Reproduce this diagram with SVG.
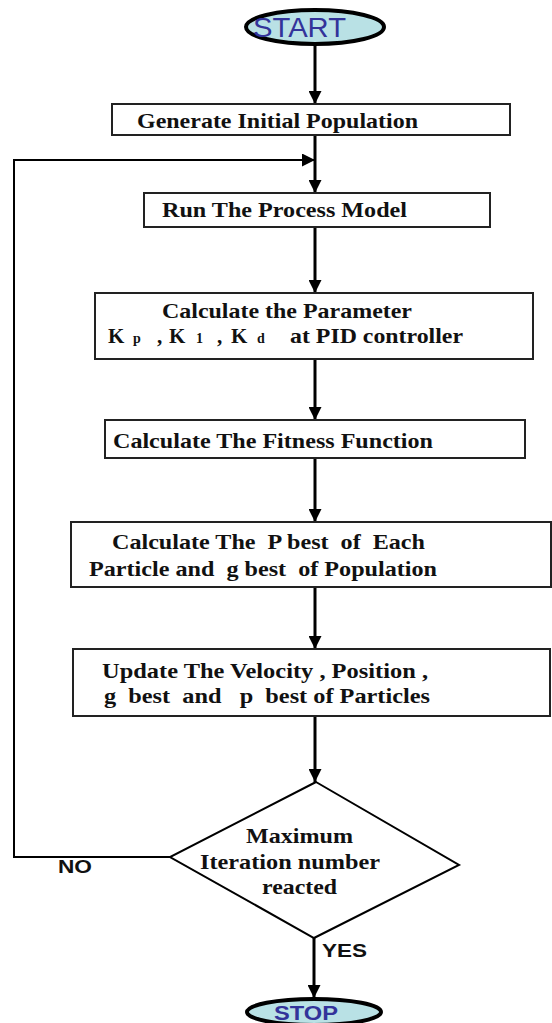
<svg xmlns="http://www.w3.org/2000/svg" width="552" height="1023" viewBox="0 0 552 1023">
<style>
.box{fill:#fff;stroke:#222;stroke-width:2}
.t{font-family:"Liberation Serif","Times New Roman",serif;font-weight:bold;font-size:21px;fill:#111}
.s{font-size:14px}
.term{fill:#b9e1e5;stroke:#000;stroke-width:4}
.tt{font-family:"Liberation Sans",Arial,sans-serif;fill:#33339a}
.lbl{font-family:"Liberation Sans",Arial,sans-serif;font-weight:bold;font-size:19px;fill:#111}
.c{fill:none;stroke:#000;stroke-width:3}
.c2{fill:none;stroke:#000;stroke-width:2}
</style>
<defs>
<marker id="a" viewBox="0 0 10 10" refX="10" refY="5" markerWidth="13" markerHeight="13" orient="auto" markerUnits="userSpaceOnUse">
<path d="M0,0 L10,5 L0,10 z" fill="#000"/>
</marker>
</defs>
<g id="connectors">
<path class="c" d="M315,45 V104" marker-end="url(#a)"/>
<path class="c" d="M315,136 V193" marker-end="url(#a)"/>
<path class="c2" d="M170,857 H14 V160 H315" marker-end="url(#a)"/>
<path class="c" d="M315,227 V293" marker-end="url(#a)"/>
<path class="c" d="M315,360 V420" marker-end="url(#a)"/>
<path class="c" d="M315,459 V522" marker-end="url(#a)"/>
<path class="c" d="M315,588 V649" marker-end="url(#a)"/>
<path class="c" d="M315,717 V782" marker-end="url(#a)"/>
<path class="c" d="M314,938 V998" marker-end="url(#a)"/>
<text class="lbl" x="322" y="957" textLength="45" lengthAdjust="spacingAndGlyphs">YES</text>
<text class="lbl" x="58" y="873" textLength="34" lengthAdjust="spacingAndGlyphs">NO</text>
</g>
<g id="start">
<ellipse class="term" cx="315" cy="27" rx="69" ry="17"/>
<text class="tt" x="253" y="37" font-size="28" textLength="93" lengthAdjust="spacingAndGlyphs">START</text>
</g>
<g id="n1">
<rect class="box" x="112" y="104" width="398" height="31"/>
<text class="t" x="137" y="128" textLength="281" lengthAdjust="spacingAndGlyphs">Generate Initial Population</text>
</g>
<g id="n2">
<rect class="box" x="144" y="193" width="346" height="34"/>
<text class="t" x="162" y="217" textLength="245" lengthAdjust="spacingAndGlyphs">Run The Process Model</text>
</g>
<g id="n3">
<rect class="box" x="95" y="293" width="438" height="66"/>
<text class="t" x="162" y="318" textLength="250" lengthAdjust="spacingAndGlyphs">Calculate the Parameter</text>
<text class="t" y="343"><tspan x="108">K</tspan><tspan class="s" x="133">p</tspan><tspan x="157">,</tspan><tspan x="169">K</tspan><tspan class="s" x="196">1</tspan><tspan x="217">,</tspan><tspan x="231">K</tspan><tspan class="s" x="257">d</tspan><tspan x="290" textLength="173" lengthAdjust="spacingAndGlyphs">at PID controller</tspan></text>
</g>
<g id="n4">
<rect class="box" x="105" y="420" width="420" height="38"/>
<text class="t" x="113" y="448" textLength="320" lengthAdjust="spacingAndGlyphs">Calculate The Fitness Function</text>
</g>
<g id="n5">
<rect class="box" x="71" y="522" width="480" height="65"/>
<text class="t" x="112" y="549" textLength="313" lengthAdjust="spacingAndGlyphs" xml:space="preserve">Calculate The  P best  of  Each</text>
<text class="t" x="89" y="576" textLength="348" lengthAdjust="spacingAndGlyphs" xml:space="preserve">Particle and  g best  of Population</text>
</g>
<g id="n6">
<rect class="box" x="73" y="649" width="477" height="67"/>
<text class="t" x="102" y="678" textLength="326" lengthAdjust="spacingAndGlyphs" xml:space="preserve">Update The Velocity , Position ,</text>
<text class="t" x="104" y="703" textLength="326" lengthAdjust="spacingAndGlyphs" xml:space="preserve">g  best  and   p  best of Particles</text>
</g>
<g id="decision">
<polygon points="316,782 459,865 314,938 170,857" fill="#fff" stroke="#000" stroke-width="2"/>
<text class="t" x="246" y="843" textLength="107" lengthAdjust="spacingAndGlyphs">Maximum</text>
<text class="t" x="200" y="869" textLength="180" lengthAdjust="spacingAndGlyphs">Iteration number</text>
<text class="t" x="262" y="894" textLength="75" lengthAdjust="spacingAndGlyphs">reacted</text>
</g>
<g id="stop">
<ellipse class="term" cx="314" cy="1012" rx="67" ry="13"/>
<text class="tt" x="274" y="1020" font-size="21" font-weight="bold" textLength="64" lengthAdjust="spacingAndGlyphs">STOP</text>
</g>
</svg>
